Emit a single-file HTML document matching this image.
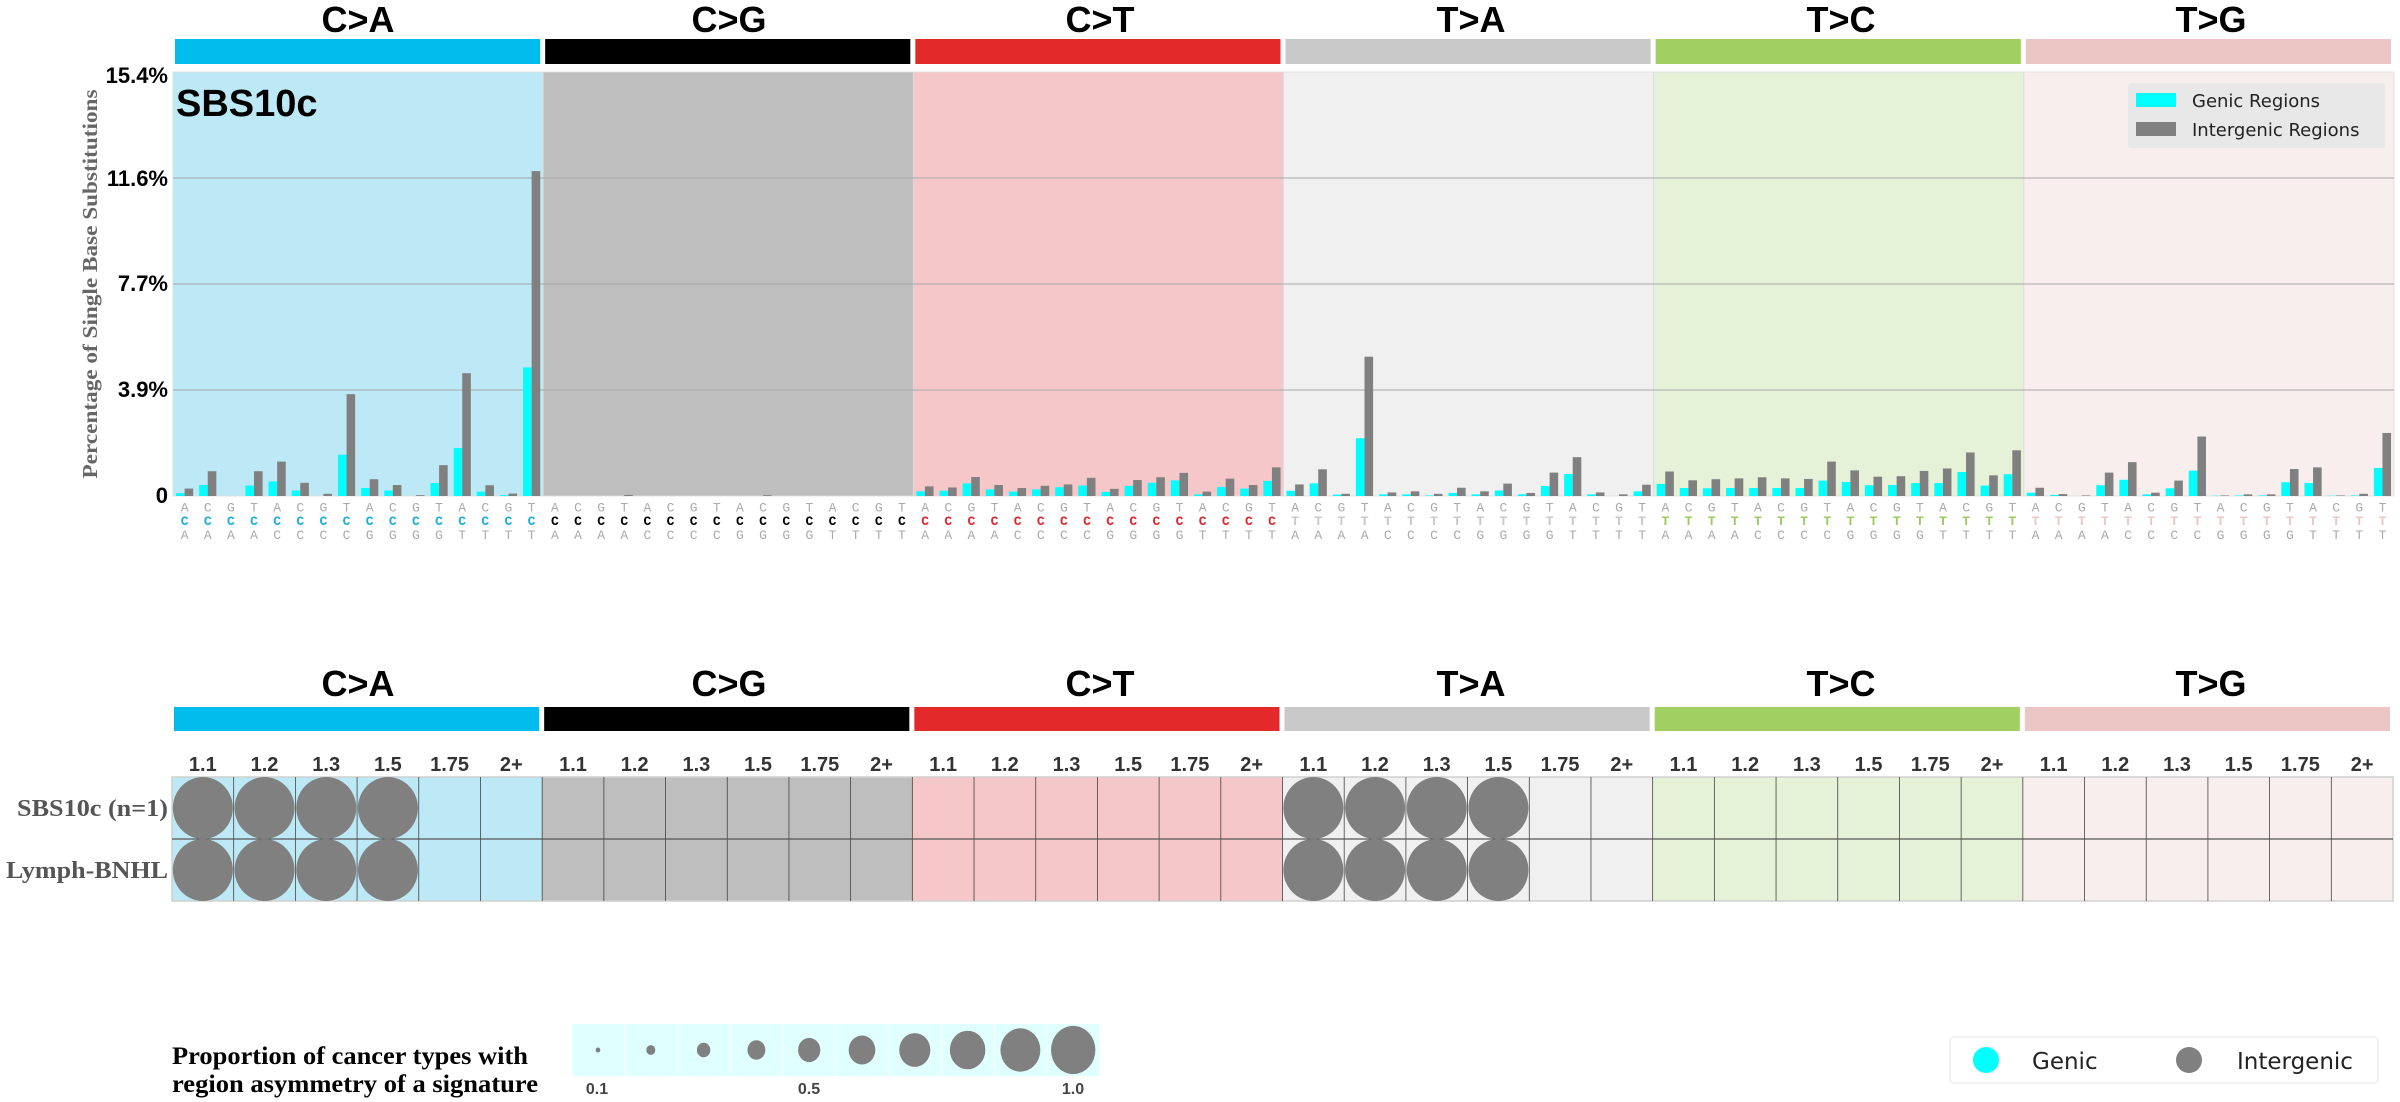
<!DOCTYPE html>
<html><head><meta charset="utf-8">
<style>
html,body{margin:0;padding:0;background:#fff;}
svg{display:block;}
.t{font-family:"Liberation Sans",sans-serif;font-weight:bold;font-size:36px;fill:#000;text-anchor:middle;}
.yt{font-family:"Liberation Sans",sans-serif;font-weight:bold;font-size:22px;fill:#000;text-anchor:end;}
.lb text{font-family:"Liberation Mono",monospace;font-size:13px;fill:#aaa;letter-spacing:15.33px;}
.lb text.m{font-weight:bold;font-size:13px;}
.pCA .m{fill:#1aaedc}.pCG .m{fill:#000}.pCT .m{fill:#e0262b}.pTA .m{fill:#c8c8c8}.pTC .m{fill:#9bcb5e}.pTG .m{fill:#edc5c5}
.tk text{font-family:"Liberation Sans Narrow","Liberation Sans",sans-serif;font-weight:bold;font-size:20px;fill:#333;text-anchor:middle;}
</style></head><body>
<svg id="s" width="2400" height="1102" viewBox="0 0 2400 1102" xmlns="http://www.w3.org/2000/svg">
<text class="t" x="358" y="32">C&gt;A</text>
<text class="t" x="729" y="32">C&gt;G</text>
<text class="t" x="1100" y="32">C&gt;T</text>
<text class="t" x="1471" y="32">T&gt;A</text>
<text class="t" x="1841" y="32">T&gt;C</text>
<text class="t" x="2211" y="32">T&gt;G</text>
<g id="topbars"></g>
<g id="plot"></g>
<text class="yt" x="168" y="83">15.4%</text>
<text class="yt" x="168" y="186">11.6%</text>
<text class="yt" x="168" y="291">7.7%</text>
<text class="yt" x="168" y="397">3.9%</text>
<text class="yt" x="168" y="503">0</text>
<text x="0" y="0" transform="translate(97,284) rotate(-90)" text-anchor="middle" textLength="389" lengthAdjust="spacingAndGlyphs" style="font-family:'Liberation Serif',serif;font-weight:bold;font-size:21px;fill:#666">Percentage of Single Base Substitutions</text>
<text x="176" y="116" style="font-family:'Liberation Sans',sans-serif;font-weight:bold;font-size:38px;fill:#000">SBS10c</text>
<rect x="2128" y="83" width="257" height="65" fill="#e8e8e8" rx="3"/>
<rect x="2136" y="93" width="40" height="14" fill="#00ffff"/>
<rect x="2136" y="122" width="40" height="14" fill="#808080"/>
<text x="2192" y="107" style="font-family:'DejaVu Sans',sans-serif;font-size:18px;fill:#222">Genic Regions</text>
<text x="2192" y="136" style="font-family:'DejaVu Sans',sans-serif;font-size:18px;fill:#222">Intergenic Regions</text>

<g class="lb pCA">
<text x="180.7" y="511.5">ACGTACGTACGTACGT</text>
<text class="m" x="180.7" y="525">CCCCCCCCCCCCCCCC</text>
<text x="180.7" y="539">AAAACCCCGGGGTTTT</text>
</g>
<g class="lb pCG">
<text x="551.0" y="511.5">ACGTACGTACGTACGT</text>
<text class="m" x="551.0" y="525">CCCCCCCCCCCCCCCC</text>
<text x="551.0" y="539">AAAACCCCGGGGTTTT</text>
</g>
<g class="lb pCT">
<text x="921.2" y="511.5">ACGTACGTACGTACGT</text>
<text class="m" x="921.2" y="525">CCCCCCCCCCCCCCCC</text>
<text x="921.2" y="539">AAAACCCCGGGGTTTT</text>
</g>
<g class="lb pTA">
<text x="1291.3" y="511.5">ACGTACGTACGTACGT</text>
<text class="m" x="1291.3" y="525">TTTTTTTTTTTTTTTT</text>
<text x="1291.3" y="539">AAAACCCCGGGGTTTT</text>
</g>
<g class="lb pTC">
<text x="1661.5" y="511.5">ACGTACGTACGTACGT</text>
<text class="m" x="1661.5" y="525">TTTTTTTTTTTTTTTT</text>
<text x="1661.5" y="539">AAAACCCCGGGGTTTT</text>
</g>
<g class="lb pTG">
<text x="2031.6" y="511.5">ACGTACGTACGTACGT</text>
<text class="m" x="2031.6" y="525">TTTTTTTTTTTTTTTT</text>
<text x="2031.6" y="539">AAAACCCCGGGGTTTT</text>
</g>

<text class="t" x="358" y="696">C&gt;A</text>
<text class="t" x="729" y="696">C&gt;G</text>
<text class="t" x="1100" y="696">C&gt;T</text>
<text class="t" x="1471" y="696">T&gt;A</text>
<text class="t" x="1841" y="696">T&gt;C</text>
<text class="t" x="2211" y="696">T&gt;G</text>
<g id="botbars"></g>
<g id="grid"></g>
<g class="tk" transform="translate(172,771)">
<text x="30.8">1.1</text><text x="92.5">1.2</text><text x="154.2">1.3</text><text x="215.9">1.5</text><text x="277.6">1.75</text><text x="339.3">2+</text>
</g>
<g class="tk" transform="translate(542.2,771)">
<text x="30.8">1.1</text><text x="92.5">1.2</text><text x="154.2">1.3</text><text x="215.9">1.5</text><text x="277.6">1.75</text><text x="339.3">2+</text>
</g>
<g class="tk" transform="translate(912.3,771)">
<text x="30.8">1.1</text><text x="92.5">1.2</text><text x="154.2">1.3</text><text x="215.9">1.5</text><text x="277.6">1.75</text><text x="339.3">2+</text>
</g>
<g class="tk" transform="translate(1282.5,771)">
<text x="30.8">1.1</text><text x="92.5">1.2</text><text x="154.2">1.3</text><text x="215.9">1.5</text><text x="277.6">1.75</text><text x="339.3">2+</text>
</g>
<g class="tk" transform="translate(1652.7,771)">
<text x="30.8">1.1</text><text x="92.5">1.2</text><text x="154.2">1.3</text><text x="215.9">1.5</text><text x="277.6">1.75</text><text x="339.3">2+</text>
</g>
<g class="tk" transform="translate(2022.8,771)">
<text x="30.8">1.1</text><text x="92.5">1.2</text><text x="154.2">1.3</text><text x="215.9">1.5</text><text x="277.6">1.75</text><text x="339.3">2+</text>
</g>
<text x="168" y="816" text-anchor="end" textLength="151" lengthAdjust="spacingAndGlyphs" style="font-family:'Liberation Serif',serif;font-weight:bold;font-size:24px;fill:#555">SBS10c (n=1)</text>
<text x="168" y="878" text-anchor="end" textLength="162" lengthAdjust="spacingAndGlyphs" style="font-family:'Liberation Serif',serif;font-weight:bold;font-size:24px;fill:#555">Lymph-BNHL</text>

<text x="172" y="1064" textLength="356" lengthAdjust="spacingAndGlyphs" style="font-family:'Liberation Serif',serif;font-weight:bold;font-size:25px;fill:#000">Proportion of cancer types with</text>
<text x="172" y="1092" textLength="366" lengthAdjust="spacingAndGlyphs" style="font-family:'Liberation Serif',serif;font-weight:bold;font-size:25px;fill:#000">region asymmetry of a signature</text>
<g id="sizeleg"></g>
<text x="597" y="1094" text-anchor="middle" style="font-family:'Liberation Sans Narrow','Liberation Sans',sans-serif;font-weight:bold;font-size:16px;fill:#444">0.1</text>
<text x="809" y="1094" text-anchor="middle" style="font-family:'Liberation Sans Narrow','Liberation Sans',sans-serif;font-weight:bold;font-size:16px;fill:#444">0.5</text>
<text x="1073" y="1094" text-anchor="middle" style="font-family:'Liberation Sans Narrow','Liberation Sans',sans-serif;font-weight:bold;font-size:16px;fill:#444">1.0</text>
<rect x="1950" y="1037" width="428" height="46" fill="#fff" stroke="#e6e6e6" rx="4"/>
<circle cx="1986" cy="1060" r="13" fill="#00ffff"/>
<circle cx="2189" cy="1060" r="13" fill="#808080"/>
<text x="2032" y="1069" style="font-family:'DejaVu Sans',sans-serif;font-size:23px;fill:#222">Genic</text>
<text x="2237" y="1069" style="font-family:'DejaVu Sans',sans-serif;font-size:23px;fill:#222">Intergenic</text>
</svg>
<script>
var NS="http://www.w3.org/2000/svg";
function el(p,n,a){var e=document.createElementNS(NS,n);for(var k in a)e.setAttribute(k,a[k]);p.appendChild(e);return e;}
var barC=["#00bdee","#000000","#e32929","#c9c9c9","#a1cf61","#ecc5c5"];
var bgC=["#bde9f6","#bebebe","#f6c7c9","#f0f0f0","#e5f2d8","#f8eeed"];
var L=173,R=2394,T=72,Z=496,W=(R-L)/6;
var tb=document.getElementById("topbars"),bb=document.getElementById("botbars");
for(var p=0;p<6;p++){
 el(tb,"rect",{x:L+p*W+2,y:39,width:W-5,height:25,fill:barC[p]});
 el(bb,"rect",{x:172+p*W+2,y:707,width:W-5,height:24,fill:barC[p]});
}
var pl=document.getElementById("plot");
for(var p=0;p<6;p++) el(pl,"rect",{x:L+p*W,y:T,width:W,height:Z-T,fill:bgC[p],stroke:"#dcdcdc","stroke-width":0.8});
[178,284,390].forEach(function(y){el(pl,"line",{x1:L,x2:R,y1:y,y2:y,stroke:"#a8a8a8","stroke-width":1});});
var g=[0.1,0.4,0,0.38,0.53,0.2,0,1.5,0.29,0.2,0,0.47,1.74,0.16,0.03,4.67,
0,0,0,0,0,0,0,0,0,0,0,0,0,0,0,0,
0.17,0.19,0.46,0.24,0.16,0.24,0.32,0.38,0.15,0.37,0.48,0.57,0.06,0.33,0.27,0.55,
0.19,0.46,0.05,2.1,0.06,0.06,0.02,0.11,0.06,0.2,0.06,0.36,0.8,0.06,0,0.17,
0.44,0.29,0.28,0.29,0.29,0.29,0.29,0.56,0.51,0.39,0.4,0.47,0.47,0.87,0.38,0.79,
0.12,0.04,0,0.39,0.59,0.06,0.28,0.92,0.01,0.02,0.02,0.5,0.47,0.01,0.02,1.02];
var ig=[0.27,0.9,0,0.9,1.25,0.48,0.08,3.7,0.61,0.4,0.03,1.12,4.46,0.39,0.09,11.8,
0,0,0,0.04,0,0,0,0,0,0.03,0,0,0,0,0,0,
0.35,0.31,0.69,0.4,0.29,0.37,0.42,0.66,0.26,0.58,0.68,0.84,0.16,0.63,0.4,1.04,
0.42,0.97,0.08,5.06,0.13,0.17,0.08,0.3,0.17,0.45,0.11,0.85,1.41,0.13,0.06,0.41,
0.89,0.57,0.61,0.64,0.68,0.64,0.62,1.25,0.93,0.7,0.72,0.91,1.0,1.58,0.75,1.66,
0.3,0.07,0.02,0.85,1.23,0.12,0.56,2.16,0.02,0.06,0.06,0.98,1.04,0.02,0.08,2.29];
var cw=(R-L)/96,ppp=(Z-T)/15.4;
for(var i=0;i<96;i++){
 var x0=L+i*cw;
 var h1=g[i]*ppp,h2=ig[i]*ppp;
 if(h1>0)el(pl,"rect",{x:x0+3,y:Z-h1,width:8.6,height:h1,fill:"#00ffff"});
 if(h2>0)el(pl,"rect",{x:x0+11.6,y:Z-h2,width:8.6,height:h2,fill:"#808080"});
}
var gr=document.getElementById("grid");
var GL=172,GR=2393,GW=(GR-GL)/36;
for(var p=0;p<6;p++) el(gr,"rect",{x:GL+p*GW*6,y:777,width:GW*6,height:124,fill:bgC[p]});
el(gr,"rect",{x:GL,y:777,width:GR-GL,height:124,fill:"none",stroke:"#d0d0d0","stroke-width":1.5});
for(var k=1;k<36;k++) el(gr,"line",{x1:GL+k*GW,x2:GL+k*GW,y1:777,y2:901,stroke:"#444","stroke-width":0.8});
el(gr,"line",{x1:GL,x2:GR,y1:839,y2:839,stroke:"#555","stroke-width":1.2});
[0,3].forEach(function(p){for(var k=0;k<4;k++)[808,870].forEach(function(cy){
 el(gr,"ellipse",{cx:GL+(p*6+k+0.5)*GW,cy:cy,rx:30,ry:31,fill:"#808080"});});});
var sl=document.getElementById("sizeleg");
for(var k=0;k<10;k++){
 el(sl,"rect",{x:572+k*52.8+0.5,y:1024,width:51.8,height:52,fill:"#e0ffff"});
 var r=2.5+k*2.4;
 el(sl,"ellipse",{cx:598+k*52.8,cy:1050,rx:r*0.92,ry:r,fill:"#808080"});
}
</script>
</body></html>
